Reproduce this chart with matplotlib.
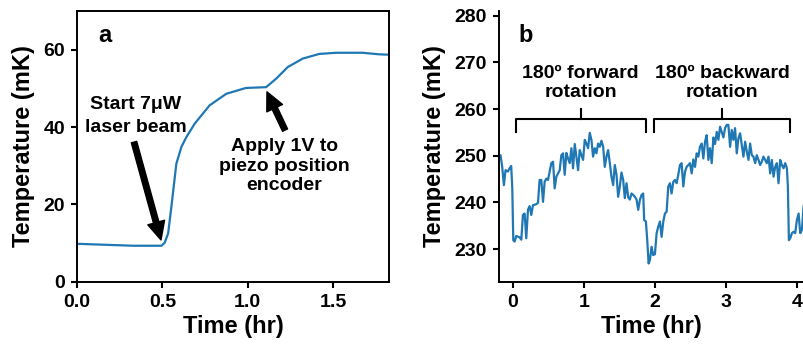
import matplotlib

matplotlib.use("Agg")

import matplotlib.pyplot as plt

plt.rcParams["font.family"] = ["Liberation Sans", "DejaVu Sans"]
plt.rcParams["font.weight"] = "bold"

# panel a: warm-up after laser switched on
time_a = [0.0, 0.33, 0.495, 0.514, 0.534, 0.553, 0.582, 0.612, 0.641, 0.69,
          0.777, 0.875, 0.99, 1.108, 1.167, 1.235, 1.323, 1.42, 1.518, 1.673,
          1.77, 1.825]
temp_a = [9.8, 9.3, 9.3, 10.1, 12.5, 19.4, 30.5, 34.9, 37.4, 40.9,
          45.6, 48.6, 50.1, 50.3, 52.5, 55.5, 57.7, 58.9, 59.2, 59.2,
          58.8, 58.7]

# panel b: forward / backward rotation
time_b = [-0.207, -0.174, -0.151, -0.127, -0.104, -0.071, -0.047, -0.024, -0.009, 0.005,
          0.024, 0.047, 0.094, 0.118, 0.141, 0.165, 0.188, 0.212, 0.235, 0.259,
          0.282, 0.329, 0.353, 0.376, 0.400, 0.424, 0.447, 0.471, 0.494, 0.518,
          0.541, 0.565, 0.588, 0.612, 0.635, 0.659, 0.682, 0.706, 0.729, 0.753,
          0.776, 0.800, 0.824, 0.847, 0.871, 0.894, 0.918, 0.941, 0.965, 0.988,
          1.012, 1.035, 1.059, 1.082, 1.106, 1.129, 1.153, 1.176, 1.200, 1.224,
          1.247, 1.271, 1.294, 1.318, 1.341, 1.365, 1.388, 1.412, 1.435, 1.459,
          1.482, 1.506, 1.529, 1.553, 1.576, 1.600, 1.624, 1.647, 1.671, 1.694,
          1.718, 1.741, 1.765, 1.788, 1.812, 1.835, 1.849, 1.873, 1.892, 1.911,
          1.929, 1.953, 1.976, 2.000, 2.024, 2.047, 2.071, 2.094, 2.118, 2.141,
          2.165, 2.188, 2.212, 2.235, 2.259, 2.282, 2.306, 2.329, 2.353, 2.376,
          2.400, 2.424, 2.447, 2.471, 2.494, 2.518, 2.541, 2.565, 2.588, 2.612,
          2.635, 2.659, 2.682, 2.706, 2.729, 2.753, 2.776, 2.800, 2.824, 2.847,
          2.871, 2.894, 2.918, 2.941, 2.965, 2.988, 3.012, 3.035, 3.059, 3.082,
          3.106, 3.129, 3.153, 3.176, 3.200, 3.224, 3.247, 3.271, 3.294, 3.318,
          3.341, 3.365, 3.388, 3.412, 3.435, 3.459, 3.482, 3.506, 3.529, 3.553,
          3.576, 3.600, 3.624, 3.647, 3.671, 3.694, 3.718, 3.741, 3.765, 3.788,
          3.812, 3.835, 3.859, 3.873, 3.887, 3.906, 3.929, 3.953, 3.976, 4.000,
          4.024, 4.047, 4.071, 4.094, 4.104]
temp_b = [249.8, 250.1, 247.6, 243.7, 246.9, 246.6, 247.3, 247.8, 243.0, 231.9,
          231.6, 232.8, 232.5, 232.0, 237.3, 237.6, 232.3, 238.4, 239.2, 237.3,
          239.4, 239.6, 239.9, 244.8, 244.8, 240.1, 244.4, 245.1, 244.8, 246.6,
          248.4, 248.7, 243.0, 245.5, 246.2, 246.9, 250.1, 250.5, 245.9, 250.6,
          249.4, 248.4, 251.6, 247.3, 252.5, 249.8, 246.9, 251.2, 250.1, 249.1,
          253.4, 252.6, 251.6, 254.9, 253.4, 249.8, 251.6, 250.5, 252.6, 251.9,
          253.2, 251.9, 247.6, 249.8, 251.2, 248.4, 245.5, 243.7, 248.0, 245.9,
          241.2, 243.4, 246.4, 244.8, 240.9, 244.1, 241.1, 240.6, 241.9, 241.6,
          241.2, 240.6, 238.4, 240.5, 241.6, 241.9, 236.2, 235.9, 231.9, 226.9,
          227.6, 230.5, 228.7, 228.9, 233.4, 234.8, 235.9, 232.6, 235.9, 237.6,
          238.0, 243.4, 244.1, 241.9, 244.4, 244.8, 244.1, 245.9, 248.0, 248.4,
          243.4, 246.6, 247.6, 248.0, 248.4, 246.2, 249.2, 247.6, 250.5, 249.8,
          251.9, 252.6, 249.4, 253.0, 254.4, 249.1, 251.6, 248.4, 253.9, 252.5,
          255.1, 253.4, 256.2, 255.1, 253.9, 255.9, 256.6, 256.6, 251.9, 255.5,
          253.4, 255.9, 250.5, 253.7, 254.8, 252.3, 249.8, 253.0, 250.9, 249.1,
          252.6, 250.1, 249.8, 248.4, 250.1, 249.1, 248.0, 248.7, 249.8, 249.1,
          248.4, 249.8, 246.2, 249.1, 245.5, 247.6, 248.4, 244.1, 249.1, 248.0,
          247.3, 248.4, 247.3, 243.4, 231.9, 232.3, 233.4, 233.7, 233.4, 236.2,
          237.6, 233.4, 234.1, 239.1, 239.8]

line_color = "#1f77b4"

fig = plt.figure(figsize=(8.04, 3.48), dpi=100)
ax_a = fig.add_axes([0.0958, 0.1905, 0.3884, 0.7779])
ax_b = fig.add_axes([0.6203, 0.1905, 0.3797, 0.7779])

for ax in (ax_a, ax_b):
    ax.tick_params(labelsize=14, width=1.5, length=4.5, pad=4)
    for s in ax.spines.values():
        s.set_linewidth(1.4)

# ---- panel a
ax_a.plot(time_a, temp_a, color=line_color, lw=1.6)
ax_a.set_xlim(0, 1.83)
ax_a.set_ylim(0, 70)
ax_a.set_xticks([0.0, 0.5, 1.0, 1.5])
ax_a.set_yticks([0, 20, 40, 60])
ax_a.set_xlabel("Time (hr)", fontsize=17, fontweight="bold", labelpad=3)
ax_a.set_ylabel("Temperature (mK)", fontsize=17, fontweight="bold", labelpad=6)
ax_a.text(0.166, 62.0, "a", fontsize=17, fontweight="bold", va="baseline", ha="center")

arrow = dict(facecolor="black", edgecolor="black", width=4, headwidth=12.5,
             headlength=13, shrink=0)
ax_a.annotate("", xy=(0.492, 10.8), xytext=(0.334, 36.1), arrowprops=arrow)
ax_a.text(0.343, 48.1, "Start 7\u03bcW\nlaser beam", fontsize=14, fontweight="bold",
          ha="center", va="top", linespacing=1.45)
ax_a.annotate("", xy=(1.113, 49.1), xytext=(1.219, 39.2), arrowprops=arrow)
ax_a.text(1.216, 37.1, "Apply 1V to\npiezo position\nencoder", fontsize=14,
          fontweight="bold", ha="center", va="top", linespacing=1.2)

# ---- panel b
ax_b.plot(time_b, temp_b, color=line_color, lw=1.6)
ax_b.set_xlim(-0.2, 4.1)
ax_b.set_ylim(223, 281)
ax_b.set_xticks([0, 1, 2, 3, 4])
ax_b.set_yticks([230, 240, 250, 260, 270, 280])
ax_b.spines["top"].set_visible(False)
ax_b.spines["right"].set_visible(False)
ax_b.set_xlabel("Time (hr)", fontsize=17, fontweight="bold", labelpad=3)
ax_b.set_ylabel("Temperature (mK)", fontsize=17, fontweight="bold", labelpad=6)
ax_b.text(0.179, 274.4, "b", fontsize=17, fontweight="bold", va="baseline", ha="center")

brackets = [(0.047, 1.868, 0.955, "180\u00ba forward\nrotation"),
            (1.986, 3.906, 2.951, "180\u00ba backward\nrotation")]
for x0, x1, xc, label in brackets:
    ax_b.plot([x0, x0, x1, x1], [255.1, 257.9, 257.9, 255.1], color="black", lw=1.5)
    ax_b.plot([xc, xc], [257.9, 259.9], color="black", lw=1.5)
    ax_b.text(xc, 269.4, label, fontsize=14, fontweight="bold",
              ha="center", va="top", linespacing=1.15)

fig.savefig("out.png", dpi=100)
